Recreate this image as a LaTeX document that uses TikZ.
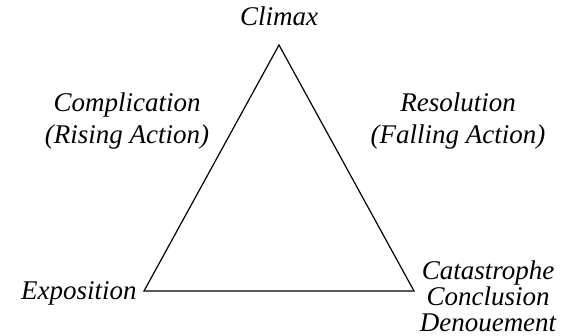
\documentclass[tikz,border=0pt]{standalone}
\usepackage{fontspec}
\setmainfont{Liberation Serif}
\usepackage{tikz}

\begin{document}
\begin{tikzpicture}[
    x=0.5pt, y=-0.5pt,
    etapa/.style={font=\fontsize{13.5}{13}\selectfont\itshape, align=center, inner sep=0pt},
    lado/.style={line width=0.6pt, black}
  ]
    \useasboundingbox (0,0) rectangle (566,336);
    \coordinate (topo) at (279,45);
    \coordinate (esq) at (144,291);
    \coordinate (dir) at (414,291);
    \draw[lado, line join=miter] (esq) -- (topo) -- (dir) -- cycle;
    \node[etapa] (climax) at (279,16) {Climax};
    \node[etapa] (subida) at (127,121) {Complication\\[3pt](Rising Action)};
    \node[etapa] (queda) at (458,121) {Resolution\\[3pt](Falling Action)};
    \node[etapa, anchor=east] (expo) at (137,293) {Exposition};
    \node[etapa] (fim) at (488,296) {Catastrophe\\Conclusion\\Denouement};
  \end{tikzpicture}
\end{document}
